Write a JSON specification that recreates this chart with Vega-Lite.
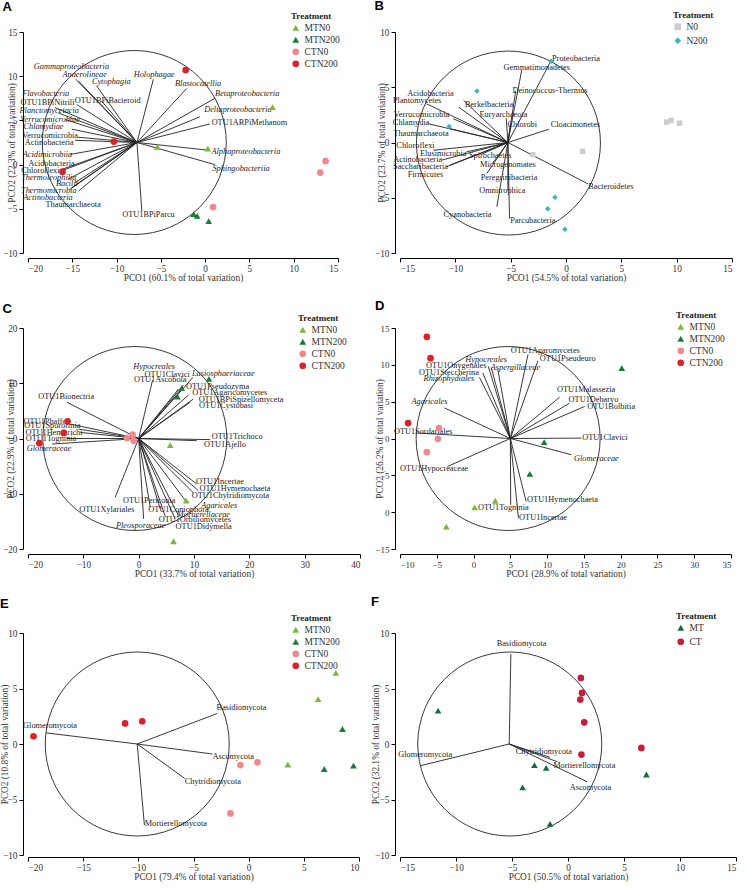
{
"$schema": "https://vega.github.io/schema/vega-lite/v6.json",
"background": "white",
"padding": {"left": 0, "top": 0, "right": 0, "bottom": 0},
"columns": 2,
"spacing": {"row": 17, "column": 10},
"align": "each",
"resolve": {"scale": {"color": "independent", "shape": "independent", "x": "independent", "y": "independent"}, "legend": {"color": "independent", "shape": "independent"}},
"datasets": {
"vA": [
{"n":"Gammaproteobacteria","x":-14.6,"y":9.65,"lx":-15.1,"ly":11.0,"it":1,"ox":-7.7,"oy":2.5},
{"n":"Anaerolineae","x":-14.3,"y":9.45,"lx":-13.6,"ly":10.15,"it":1,"ox":-7.7,"oy":2.5},
{"n":"Cytophagia","x":-12.25,"y":8.9,"lx":-10.6,"ly":9.3,"it":1,"ox":-7.7,"oy":2.5},
{"n":"Holophagae","x":-5.85,"y":9.65,"lx":-5.75,"ly":10.15,"it":1,"ox":-7.7,"oy":2.5},
{"n":"Blastocatellia","x":-2.1,"y":8.6,"lx":-0.8,"ly":9.1,"it":1,"ox":-7.7,"oy":2.5},
{"n":"Betaproteobacteria","x":1.1,"y":7.5,"lx":4.75,"ly":8.0,"it":1,"ox":-7.7,"oy":2.5},
{"n":"Deltaproteobacteria","x":-0.6,"y":5.4,"lx":3.7,"ly":6.15,"it":1,"ox":-7.7,"oy":2.5},
{"n":"OTU1ARPiMethanom","x":0.55,"y":4.6,"lx":5.0,"ly":4.75,"it":0,"ox":-7.7,"oy":2.5},
{"n":"Alphaproteobacteria","x":0.15,"y":1.65,"lx":4.6,"ly":1.4,"it":1,"ox":-7.7,"oy":2.5},
{"n":"Sphingobacteriia","x":1.1,"y":0.0,"lx":4.05,"ly":-0.55,"it":1,"ox":-7.7,"oy":2.5},
{"n":"OTU1BPiParcu","x":-7.15,"y":-5.25,"lx":-6.4,"ly":-5.75,"it":0,"ox":-7.7,"oy":2.5},
{"n":"Thaumarchaeota","x":-14.3,"y":-3.0,"lx":-14.9,"ly":-4.6,"it":0,"ox":-7.7,"oy":2.5},
{"n":"Actinobacteria","x":-15.25,"y":-2.8,"lx":-17.75,"ly":-3.75,"it":1,"ox":-7.7,"oy":2.5},
{"n":"Thermomicrobia","x":-15.05,"y":-2.6,"lx":-17.65,"ly":-3.0,"it":1,"ox":-7.7,"oy":2.5},
{"n":"Bacilli","x":-14.7,"y":-2.05,"lx":-15.6,"ly":-2.25,"it":1,"ox":-7.7,"oy":2.5},
{"n":"Thermoleophilia","x":-15.45,"y":-1.65,"lx":-17.65,"ly":-1.55,"it":1,"ox":-7.7,"oy":2.5},
{"n":"Chloroflexi","x":-16.2,"y":-0.7,"lx":-18.6,"ly":-0.7,"it":0,"ox":-7.7,"oy":2.5},
{"n":"Acidobacteria","x":-16.2,"y":-0.55,"lx":-17.35,"ly":0.05,"it":0,"ox":-7.7,"oy":2.5},
{"n":"Acidimicrobiia","x":-15.25,"y":1.15,"lx":-17.8,"ly":1.1,"it":1,"ox":-7.7,"oy":2.5},
{"n":"Actinobacteria","x":-14.7,"y":2.75,"lx":-17.6,"ly":2.4,"it":0,"ox":-7.7,"oy":2.5},
{"n":"Verrucomicrobia","x":-14.4,"y":3.1,"lx":-17.5,"ly":3.25,"it":0,"ox":-7.7,"oy":2.5},
{"n":"Chlamydiae","x":-15.05,"y":4.0,"lx":-18.25,"ly":4.25,"it":1,"ox":-7.7,"oy":2.5},
{"n":"Verrucomicrobiae","x":-15.8,"y":5.1,"lx":-17.5,"ly":5.1,"it":1,"ox":-7.7,"oy":2.5},
{"n":"Planctomycetacia","x":-16.6,"y":5.85,"lx":-17.6,"ly":6.05,"it":1,"ox":-7.7,"oy":2.5},
{"n":"OTU1BPiNitrili","x":-14.5,"y":6.8,"lx":-17.8,"ly":7.0,"it":0,"ox":-7.7,"oy":2.5},
{"n":"Flavobacteria","x":-16.95,"y":6.45,"lx":-18.0,"ly":8.0,"it":1,"ox":-7.7,"oy":2.5},
{"n":"OTU1BPiBacteroid","x":-11.7,"y":7.2,"lx":-11.0,"ly":7.25,"it":0,"ox":-7.7,"oy":2.5}
],
"pA": [
{"g":"MTN0","x":7.6,"y":6.5},{"g":"MTN0","x":-5.4,"y":2.0},{"g":"MTN0","x":0.3,"y":1.8},
{"g":"MTN200","x":-1.3,"y":-5.6},{"g":"MTN200","x":-0.9,"y":-5.8},{"g":"MTN200","x":0.4,"y":-6.4},
{"g":"CTN0","x":13.6,"y":0.4},{"g":"CTN0","x":13.0,"y":-0.9},{"g":"CTN0","x":0.9,"y":-4.8},
{"g":"CTN200","x":-2.2,"y":10.7},{"g":"CTN200","x":-10.3,"y":2.6},{"g":"CTN200","x":-16.1,"y":-0.8}
],
"vB": [
{"n":"Proteobacteria","x":-1.35,"y":7.4,"lx":0.9,"ly":7.55,"it":0,"ox":-5.25,"oy":0},
{"n":"Gemmatimonadetes","x":-4.0,"y":6.55,"lx":-2.65,"ly":6.75,"it":0,"ox":-5.25,"oy":0},
{"n":"Deinococcus-Thermus","x":-4.55,"y":4.65,"lx":-1.45,"ly":4.65,"it":0,"ox":-5.25,"oy":0},
{"n":"Berkelbacteria","x":-9.25,"y":3.8,"lx":-6.95,"ly":3.35,"it":0,"ox":-5.25,"oy":0},
{"n":"Euryarchaeota","x":-5.4,"y":2.2,"lx":-5.65,"ly":2.5,"it":0,"ox":-5.25,"oy":0},
{"n":"Chlorobi","x":-5.0,"y":1.75,"lx":-3.95,"ly":1.55,"it":0,"ox":-5.25,"oy":0},
{"n":"Cloacimonetes","x":-1.55,"y":1.2,"lx":0.85,"ly":1.55,"it":0,"ox":-5.25,"oy":0},
{"n":"Acidobacteria","x":-9.7,"y":3.2,"lx":-12.25,"ly":4.4,"it":0,"ox":-5.25,"oy":0},
{"n":"Plantomycetes","x":-12.6,"y":3.5,"lx":-13.45,"ly":3.75,"it":0,"ox":-5.25,"oy":0},
{"n":"Verrucomicrobia","x":-10.2,"y":2.15,"lx":-13.05,"ly":2.5,"it":0,"ox":-5.25,"oy":0},
{"n":"Chlamydia","x":-12.45,"y":1.7,"lx":-14.0,"ly":1.75,"it":0,"ox":-5.25,"oy":0},
{"n":"Thaumarchaeota","x":-10.5,"y":1.25,"lx":-13.1,"ly":0.8,"it":0,"ox":-5.25,"oy":0},
{"n":"Chloroflexi","x":-12.0,"y":-0.7,"lx":-13.6,"ly":-0.35,"it":0,"ox":-5.25,"oy":0},
{"n":"Elusimicrobia","x":-9.0,"y":-0.85,"lx":-11.1,"ly":-1.0,"it":0,"ox":-5.25,"oy":0},
{"n":"Spirochaetes","x":-7.6,"y":-1.05,"lx":-6.85,"ly":-1.25,"it":0,"ox":-5.25,"oy":0},
{"n":"Actinobacteria","x":-11.25,"y":-1.6,"lx":-13.4,"ly":-1.6,"it":0,"ox":-5.25,"oy":0},
{"n":"Microgenomates","x":-6.65,"y":-1.9,"lx":-5.25,"ly":-2.0,"it":0,"ox":-5.25,"oy":0},
{"n":"Saccharibacteria","x":-10.8,"y":-2.2,"lx":-13.15,"ly":-2.2,"it":0,"ox":-5.25,"oy":0},
{"n":"Firmicutes","x":-10.5,"y":-2.05,"lx":-12.7,"ly":-2.95,"it":0,"ox":-5.25,"oy":0},
{"n":"Peregrinibacteria","x":-7.15,"y":-2.8,"lx":-5.15,"ly":-3.25,"it":0,"ox":-5.25,"oy":0},
{"n":"Omnitrophica","x":-5.25,"y":-4.35,"lx":-5.75,"ly":-4.4,"it":0,"ox":-5.25,"oy":0},
{"n":"Bacteroidetes","x":2.0,"y":-3.75,"lx":4.05,"ly":-4.05,"it":0,"ox":-5.25,"oy":0},
{"n":"Cyanobacteria","x":-6.25,"y":-5.8,"lx":-8.9,"ly":-6.6,"it":0,"ox":-5.25,"oy":0},
{"n":"Parcubacteria","x":-5.1,"y":-6.9,"lx":-3.0,"ly":-7.1,"it":0,"ox":-5.25,"oy":0}
],
"pB": [
{"g":"N0","x":9.1,"y":1.85},{"g":"N0","x":9.5,"y":2.0},{"g":"N0","x":10.25,"y":1.75},{"g":"N0","x":1.5,"y":-0.8},{"g":"N0","x":-3.0,"y":-1.1},
{"g":"N200","x":-1.35,"y":7.35},{"g":"N200","x":-8.05,"y":4.65},{"g":"N200","x":-10.55,"y":1.45},{"g":"N200","x":-1.0,"y":-4.95},{"g":"N200","x":-1.65,"y":-6.0},{"g":"N200","x":-0.1,"y":-7.85}
],
"vC": [
{"n":"Hypocreales","x":2.5,"y":10.5,"lx":2.8,"ly":13.0,"it":1,"ox":0,"oy":0},
{"n":"OTU1Clavici","x":8.1,"y":9.7,"lx":5.15,"ly":11.5,"it":0,"ox":0,"oy":0},
{"n":"OTU1Ascobola","x":7.2,"y":8.95,"lx":3.9,"ly":10.6,"it":0,"ox":0,"oy":0},
{"n":"Lasiosphaeriaceae","x":9.8,"y":11.05,"lx":15.3,"ly":11.65,"it":1,"ox":0,"oy":0},
{"n":"OTU1Pseudozyma","x":7.7,"y":8.85,"lx":14.25,"ly":9.25,"it":0,"ox":0,"oy":0},
{"n":"OTU1Agaricomycetes","x":9.0,"y":7.85,"lx":16.45,"ly":8.15,"it":0,"ox":0,"oy":0},
{"n":"OTU1BPiSpizellomyceta","x":9.9,"y":7.15,"lx":18.5,"ly":6.95,"it":0,"ox":0,"oy":0},
{"n":"OTU1Cystobasi","x":9.3,"y":6.55,"lx":15.8,"ly":5.95,"it":0,"ox":0,"oy":0},
{"n":"OTU1Trichoco","x":12.9,"y":-0.2,"lx":17.8,"ly":0.35,"it":0,"ox":0,"oy":0},
{"n":"OTU1Ajello","x":10.5,"y":-0.4,"lx":15.6,"ly":-1.2,"it":0,"ox":0,"oy":0},
{"n":"OTU1Incertae","x":10.5,"y":-8.25,"lx":14.7,"ly":-7.8,"it":0,"ox":0,"oy":0},
{"n":"OTU1Hymenochaeta","x":10.8,"y":-9.45,"lx":17.4,"ly":-9.15,"it":0,"ox":0,"oy":0},
{"n":"OTU1Chytridiomycota","x":9.9,"y":-9.85,"lx":16.6,"ly":-10.45,"it":0,"ox":0,"oy":0},
{"n":"Agaricales","x":8.7,"y":-11.55,"lx":14.55,"ly":-12.15,"it":1,"ox":0,"oy":0},
{"n":"Mortierellaceae","x":7.2,"y":-13.95,"lx":11.7,"ly":-13.8,"it":1,"ox":0,"oy":0},
{"n":"OTU1Didymella","x":6.6,"y":-14.55,"lx":11.75,"ly":-16.1,"it":0,"ox":0,"oy":0},
{"n":"OTU1Orbiliomycetes","x":4.8,"y":-14.1,"lx":10.15,"ly":-14.75,"it":0,"ox":0,"oy":0},
{"n":"OTU1Coniophora","x":3.9,"y":-12.75,"lx":7.2,"ly":-12.9,"it":0,"ox":0,"oy":0},
{"n":"OTU1Periconia","x":2.1,"y":-12.45,"lx":1.9,"ly":-11.25,"it":0,"ox":0,"oy":0},
{"n":"Pleosporaceae","x":0.9,"y":-14.55,"lx":0.35,"ly":-15.8,"it":1,"ox":0,"oy":0},
{"n":"OTU1Xylariales","x":-4.25,"y":-10.65,"lx":-5.75,"ly":-12.9,"it":0,"ox":0,"oy":0},
{"n":"OTU1Bionectria","x":-12.95,"y":6.55,"lx":-13.1,"ly":7.55,"it":0,"ox":0,"oy":0},
{"n":"OTU1Phaffo","x":-12.35,"y":2.6,"lx":-16.9,"ly":3.05,"it":0,"ox":0,"oy":0},
{"n":"OTU1Sporormia","x":-10.85,"y":1.7,"lx":-15.6,"ly":2.2,"it":0,"ox":0,"oy":0},
{"n":"OTU1Hemitrichi","x":-10.55,"y":1.1,"lx":-15.3,"ly":1.0,"it":0,"ox":0,"oy":0},
{"n":"OTU1Togninia","x":-12.95,"y":0.0,"lx":-15.85,"ly":-0.1,"it":0,"ox":0,"oy":0},
{"n":"Glomeraceae","x":-15.65,"y":-1.0,"lx":-16.2,"ly":-1.9,"it":1,"ox":0,"oy":0}
],
"pC": [
{"g":"MTN0","x":5.7,"y":-1.2},{"g":"MTN0","x":8.6,"y":-11.25},{"g":"MTN0","x":6.3,"y":-18.6},
{"g":"MTN200","x":12.7,"y":10.8},{"g":"MTN200","x":7.8,"y":9.15},{"g":"MTN200","x":7.0,"y":7.6},
{"g":"CTN0","x":-1.1,"y":0.7},{"g":"CTN0","x":-2.1,"y":0.1},{"g":"CTN0","x":-0.9,"y":-0.4},
{"g":"CTN200","x":-12.85,"y":3.1},{"g":"CTN200","x":-13.55,"y":1.0},{"g":"CTN200","x":-17.95,"y":-0.85}
],
"vD": [
{"n":"OTU1Agaromycetes","x":7.4,"y":11.4,"lx":9.75,"ly":11.9,"it":0,"ox":5,"oy":0},
{"n":"OTU1Pseudeuro","x":8.75,"y":10.55,"lx":12.8,"ly":10.8,"it":0,"ox":5,"oy":0},
{"n":"Hypocreales","x":2.4,"y":9.65,"lx":1.7,"ly":10.7,"it":1,"ox":5,"oy":0},
{"n":"OTU1Onygenales","x":2.0,"y":9.8,"lx":-2.35,"ly":9.8,"it":0,"ox":5,"oy":0},
{"n":"Aspergillaceae","x":3.3,"y":9.35,"lx":5.7,"ly":9.55,"it":1,"ox":5,"oy":0},
{"n":"OTU1Steccherina","x":1.25,"y":8.9,"lx":-3.35,"ly":8.95,"it":0,"ox":5,"oy":0},
{"n":"Rhizophydiales","x":0.8,"y":8.3,"lx":-3.35,"ly":8.05,"it":1,"ox":5,"oy":0},
{"n":"OTU1Malassezia","x":11.7,"y":5.6,"lx":15.3,"ly":6.6,"it":0,"ox":5,"oy":0},
{"n":"OTU1Debaryo","x":13.05,"y":4.8,"lx":16.3,"ly":5.25,"it":0,"ox":5,"oy":0},
{"n":"OTU1Bolbitia","x":15.1,"y":4.35,"lx":18.7,"ly":4.25,"it":0,"ox":5,"oy":0},
{"n":"OTU1Clavici","x":14.65,"y":0.05,"lx":17.85,"ly":0.05,"it":0,"ox":5,"oy":0},
{"n":"Glomeraceae","x":13.3,"y":-2.2,"lx":16.7,"ly":-2.75,"it":1,"ox":5,"oy":0},
{"n":"OTU1Hymenochaeta","x":7.15,"y":-8.55,"lx":12.1,"ly":-8.4,"it":0,"ox":5,"oy":0},
{"n":"OTU1Togninia","x":5.05,"y":-9.0,"lx":4.05,"ly":-9.45,"it":0,"ox":5,"oy":0},
{"n":"OTU1Incertae","x":6.1,"y":-10.8,"lx":9.45,"ly":-10.75,"it":0,"ox":5,"oy":0},
{"n":"Agaricales","x":-3.95,"y":4.15,"lx":-6.0,"ly":4.9,"it":1,"ox":5,"oy":0},
{"n":"OTU1Sordariales","x":-7.65,"y":0.75,"lx":-6.85,"ly":0.85,"it":0,"ox":5,"oy":0},
{"n":"OTU1Hypocreaceae","x":-3.55,"y":-3.8,"lx":-5.35,"ly":-4.1,"it":0,"ox":5,"oy":0}
],
"pD": [
{"g":"MTN0","x":2.95,"y":-8.45},{"g":"MTN0","x":0.15,"y":-9.35},{"g":"MTN0","x":-3.7,"y":-11.95},
{"g":"MTN200","x":20.15,"y":9.55},{"g":"MTN200","x":9.6,"y":-0.5},{"g":"MTN200","x":7.65,"y":-4.8},
{"g":"CTN0","x":-4.7,"y":1.4},{"g":"CTN0","x":-4.85,"y":-0.05},{"g":"CTN0","x":-6.35,"y":-1.85},
{"g":"CTN200","x":-6.35,"y":13.8},{"g":"CTN200","x":-5.85,"y":10.9},{"g":"CTN200","x":-8.9,"y":2.1}
],
"vE": [
{"n":"Glomeromycota","x":-18.35,"y":1.0,"lx":-18.0,"ly":1.6,"it":0,"ox":-10.1,"oy":0},
{"n":"Basidiomycota","x":-2.85,"y":2.75,"lx":-0.65,"ly":3.2,"it":0,"ox":-10.1,"oy":0},
{"n":"Ascomycota","x":-3.3,"y":-0.9,"lx":-1.4,"ly":-1.2,"it":0,"ox":-10.1,"oy":0},
{"n":"Chytridiomycota","x":-5.8,"y":-3.1,"lx":-3.25,"ly":-3.4,"it":0,"ox":-10.1,"oy":0},
{"n":"Mortierellomycota","x":-9.45,"y":-7.3,"lx":-6.6,"ly":-7.25,"it":0,"ox":-10.1,"oy":0}
],
"pE": [
{"g":"MTN0","x":7.9,"y":6.4},{"g":"MTN0","x":6.3,"y":4.05},{"g":"MTN0","x":3.55,"y":-1.85},
{"g":"MTN200","x":8.5,"y":1.35},{"g":"MTN200","x":6.85,"y":-2.25},{"g":"MTN200","x":9.5,"y":-1.95},
{"g":"CTN0","x":-0.75,"y":-1.9},{"g":"CTN0","x":0.8,"y":-1.65},{"g":"CTN0","x":-1.65,"y":-6.25},
{"g":"CTN200","x":-19.5,"y":0.7},{"g":"CTN200","x":-11.2,"y":1.85},{"g":"CTN200","x":-9.65,"y":2.05}
],
"vF": [
{"n":"Basidiomycota","x":-5.1,"y":8.1,"lx":-4.15,"ly":9.05,"it":0,"ox":-5.25,"oy":0},
{"n":"Glomeromycota","x":-13.15,"y":-1.95,"lx":-12.75,"ly":-1.0,"it":0,"ox":-5.25,"oy":0},
{"n":"Chytridiomycota","x":-1.6,"y":-1.2,"lx":-2.15,"ly":-0.75,"it":0,"ox":-5.25,"oy":0},
{"n":"Mortierellomycota","x":-0.95,"y":-1.6,"lx":1.45,"ly":-1.95,"it":0,"ox":-5.25,"oy":0},
{"n":"Ascomycota","x":1.7,"y":-3.4,"lx":2.0,"ly":-4.0,"it":0,"ox":-5.25,"oy":0}
],
"pF": [
{"g":"MT","x":-11.6,"y":3.0},{"g":"MT","x":-3.0,"y":-1.9},{"g":"MT","x":-1.95,"y":-2.15},{"g":"MT","x":-4.05,"y":-3.9},{"g":"MT","x":-1.6,"y":-7.2},{"g":"MT","x":7.0,"y":-2.75},
{"g":"CT","x":1.15,"y":5.95},{"g":"CT","x":1.25,"y":4.6},{"g":"CT","x":1.1,"y":4.0},{"g":"CT","x":1.45,"y":1.95},{"g":"CT","x":1.2,"y":-0.95},{"g":"CT","x":6.55,"y":-0.35}
]
},
"concat": [
{"width": 310, "height": 221, "title": "A",
 "layer": [
  {"data": {"values": [{"cx": -8.0, "cy": 2.5}]}, "mark": {"type": "point", "shape": "circle", "size": 33856, "filled": false, "stroke": "#222", "strokeWidth": 0.9, "opacity": 1},
   "encoding": {"x": {"field": "cx", "type": "quantitative", "scale": {"domain": [-20, 15], "nice": false, "zero": false}, "axis": {"values": [-20,-15,-10,-5,0,5,10,15], "labelOverlap": false, "title": "PCO1 (60.1% of total variation)"}},
                "y": {"field": "cy", "type": "quantitative", "scale": {"domain": [-10, 15], "nice": false, "zero": false}, "axis": {"values": [-10,-5,0,5,10,15], "labelOverlap": false, "title": "PCO2 (22.3% of total variation)", "titleX": -7}}}},
  {"data": {"name": "vA"}, "mark": {"type": "rule", "color": "#222", "strokeWidth": 0.9},
   "encoding": {"x": {"field": "ox", "type": "quantitative"}, "y": {"field": "oy", "type": "quantitative"}, "x2": {"field": "x"}, "y2": {"field": "y"}}},
  {"data": {"name": "vA"}, "transform": [{"filter": "datum.it == 0"}], "mark": {"type": "text", "color": "#222"},
   "encoding": {"x": {"field": "lx", "type": "quantitative"}, "y": {"field": "ly", "type": "quantitative"}, "text": {"field": "n"}}},
  {"data": {"name": "vA"}, "transform": [{"filter": "datum.it == 1"}], "mark": {"type": "text", "fontStyle": "italic", "color": "#222"},
   "encoding": {"x": {"field": "lx", "type": "quantitative"}, "y": {"field": "ly", "type": "quantitative"}, "text": {"field": "n"}}},
  {"data": {"name": "pA"}, "mark": {"type": "point", "filled": true, "opacity": 1, "size": 45},
   "encoding": {"x": {"field": "x", "type": "quantitative"}, "y": {"field": "y", "type": "quantitative"},
     "color": {"field": "g", "type": "nominal", "title": "Treatment", "scale": {"domain": ["MTN0","MTN200","CTN0","CTN200"], "range": ["#7ab83c","#1d7a3a","#ee8a8e","#d9232a"]}, "legend": {"orient": "none", "legendX": 263, "legendY": -20}},
     "shape": {"field": "g", "type": "nominal", "title": "Treatment", "scale": {"domain": ["MTN0","MTN200","CTN0","CTN200"], "range": ["triangle-up","triangle-up","circle","circle"]}}}}
 ]},
{"width": 332, "height": 221, "title": "B",
 "layer": [
  {"data": {"values": [{"cx": -5.2, "cy": -0.05}]}, "mark": {"type": "point", "shape": "circle", "size": 33856, "filled": false, "stroke": "#222", "strokeWidth": 0.9, "opacity": 1},
   "encoding": {"x": {"field": "cx", "type": "quantitative", "scale": {"domain": [-15, 15], "nice": false, "zero": false}, "axis": {"values": [-15,-10,-5,0,5,10,15], "labelOverlap": false, "title": "PCO1 (54.5% of total variation)"}},
                "y": {"field": "cy", "type": "quantitative", "scale": {"domain": [-10, 10], "nice": false, "zero": false}, "axis": {"values": [-10,-5,0,5,10], "labelOverlap": false, "title": "PCO2 (23.7% of total variation)", "titleX": -9}}}},
  {"data": {"name": "vB"}, "mark": {"type": "rule", "color": "#222", "strokeWidth": 0.9},
   "encoding": {"x": {"field": "ox", "type": "quantitative"}, "y": {"field": "oy", "type": "quantitative"}, "x2": {"field": "x"}, "y2": {"field": "y"}}},
  {"data": {"name": "vB"}, "mark": {"type": "text", "color": "#222"},
   "encoding": {"x": {"field": "lx", "type": "quantitative"}, "y": {"field": "ly", "type": "quantitative"}, "text": {"field": "n"}}},
  {"data": {"name": "pB"}, "mark": {"type": "point", "filled": true, "opacity": 1, "size": 30},
   "encoding": {"x": {"field": "x", "type": "quantitative"}, "y": {"field": "y", "type": "quantitative"},
     "color": {"field": "g", "type": "nominal", "title": "Treatment", "scale": {"domain": ["N0","N200"], "range": ["#cdcdcd","#3bb5ba"]}, "legend": {"orient": "none", "legendX": 273, "legendY": -21, "rowPadding": 3}},
     "shape": {"field": "g", "type": "nominal", "title": "Treatment", "scale": {"domain": ["N0","N200"], "range": ["square","diamond"]}}}}
 ]},
{"width": 332, "height": 221, "title": "C",
 "layer": [
  {"data": {"values": [{"cx": -0.7, "cy": 0}]}, "mark": {"type": "point", "shape": "circle", "size": 33856, "filled": false, "stroke": "#222", "strokeWidth": 0.9, "opacity": 1},
   "encoding": {"x": {"field": "cx", "type": "quantitative", "scale": {"domain": [-20, 40], "nice": false, "zero": false}, "axis": {"values": [-20,-10,0,10,20,30,40], "labelOverlap": false, "title": "PCO1 (33.7% of total variation)"}},
                "y": {"field": "cy", "type": "quantitative", "scale": {"domain": [-20, 20], "nice": false, "zero": false}, "axis": {"values": [-20,-10,0,10,20], "labelOverlap": false, "title": "PCO2 (22.9% of total variation)", "titleX": -8}}}},
  {"data": {"name": "vC"}, "mark": {"type": "rule", "color": "#222", "strokeWidth": 0.9},
   "encoding": {"x": {"field": "ox", "type": "quantitative"}, "y": {"field": "oy", "type": "quantitative"}, "x2": {"field": "x"}, "y2": {"field": "y"}}},
  {"data": {"name": "vC"}, "transform": [{"filter": "datum.it == 0"}], "mark": {"type": "text", "color": "#222"},
   "encoding": {"x": {"field": "lx", "type": "quantitative"}, "y": {"field": "ly", "type": "quantitative"}, "text": {"field": "n"}}},
  {"data": {"name": "vC"}, "transform": [{"filter": "datum.it == 1"}], "mark": {"type": "text", "fontStyle": "italic", "color": "#222"},
   "encoding": {"x": {"field": "lx", "type": "quantitative"}, "y": {"field": "ly", "type": "quantitative"}, "text": {"field": "n"}}},
  {"data": {"name": "pC"}, "mark": {"type": "point", "filled": true, "opacity": 1, "size": 45},
   "encoding": {"x": {"field": "x", "type": "quantitative"}, "y": {"field": "y", "type": "quantitative"},
     "color": {"field": "g", "type": "nominal", "title": "Treatment", "scale": {"domain": ["MTN0","MTN200","CTN0","CTN200"], "range": ["#7ab83c","#1d7a3a","#ee8a8e","#d9232a"]}, "legend": {"orient": "none", "legendX": 270, "legendY": -14}},
     "shape": {"field": "g", "type": "nominal", "title": "Treatment", "scale": {"domain": ["MTN0","MTN200","CTN0","CTN200"], "range": ["triangle-up","triangle-up","circle","circle"]}}}}
 ]},
{"width": 331, "height": 221, "title": "D",
 "layer": [
  {"data": {"values": [{"cx": 4.7, "cy": 0}]}, "mark": {"type": "point", "shape": "circle", "size": 33856, "filled": false, "stroke": "#222", "strokeWidth": 0.9, "opacity": 1},
   "encoding": {"x": {"field": "cx", "type": "quantitative", "scale": {"domain": [-10, 35], "nice": false, "zero": false}, "axis": {"values": [-10,-5,0,5,10,15,20,25,30,35], "tickCount": 10, "labelOverlap": false, "labelSeparation": 0, "labelBound": false, "labelFontSize": 9, "title": "PCO1 (28.9% of total variation)"}},
                "y": {"field": "cy", "type": "quantitative", "scale": {"domain": [-15, 15], "nice": false, "zero": false}, "axis": {"values": [-15,-10,-5,0,5,10,15], "tickCount": 7, "labelOverlap": false, "labelSeparation": 0, "labelBound": false, "labelFontSize": 9, "labelExpr": "datum.value == -10 ? '0' : datum.label", "title": "PCO2 (26.2% of total variation)", "titleX": -11}}}},
  {"data": {"name": "vD"}, "mark": {"type": "rule", "color": "#222", "strokeWidth": 0.9},
   "encoding": {"x": {"field": "ox", "type": "quantitative"}, "y": {"field": "oy", "type": "quantitative"}, "x2": {"field": "x"}, "y2": {"field": "y"}}},
  {"data": {"name": "vD"}, "transform": [{"filter": "datum.it == 0"}], "mark": {"type": "text", "color": "#222"},
   "encoding": {"x": {"field": "lx", "type": "quantitative"}, "y": {"field": "ly", "type": "quantitative"}, "text": {"field": "n"}}},
  {"data": {"name": "vD"}, "transform": [{"filter": "datum.it == 1"}], "mark": {"type": "text", "fontStyle": "italic", "color": "#222"},
   "encoding": {"x": {"field": "lx", "type": "quantitative"}, "y": {"field": "ly", "type": "quantitative"}, "text": {"field": "n"}}},
  {"data": {"name": "pD"}, "mark": {"type": "point", "filled": true, "opacity": 1, "size": 45},
   "encoding": {"x": {"field": "x", "type": "quantitative"}, "y": {"field": "y", "type": "quantitative"},
     "color": {"field": "g", "type": "nominal", "title": "Treatment", "scale": {"domain": ["MTN0","MTN200","CTN0","CTN200"], "range": ["#7ab83c","#1d7a3a","#ee8a8e","#d9232a"]}, "legend": {"orient": "none", "legendX": 276, "legendY": -17}},
     "shape": {"field": "g", "type": "nominal", "title": "Treatment", "scale": {"domain": ["MTN0","MTN200","CTN0","CTN200"], "range": ["triangle-up","triangle-up","circle","circle"]}}}}
 ]},
{"width": 331, "height": 222, "title": {"text": "E", "offset": 3},
 "layer": [
  {"data": {"values": [{"cx": -10.1, "cy": 0}]}, "mark": {"type": "point", "shape": "circle", "size": 33856, "filled": false, "stroke": "#222", "strokeWidth": 0.9, "opacity": 1},
   "encoding": {"x": {"field": "cx", "type": "quantitative", "scale": {"domain": [-20, 10], "nice": false, "zero": false}, "axis": {"values": [-20,-15,-10,-5,0,5,10], "labelOverlap": false, "title": "PCO1 (79.4% of total variation)", "offset": 2}},
                "y": {"field": "cy", "type": "quantitative", "scale": {"domain": [-10, 10], "nice": false, "zero": false}, "axis": {"values": [-10,-5,0,5,10], "labelOverlap": false, "title": "PCO2 (10.8% of total variation)", "titleX": -14}}}},
  {"data": {"name": "vE"}, "mark": {"type": "rule", "color": "#222", "strokeWidth": 0.9},
   "encoding": {"x": {"field": "ox", "type": "quantitative"}, "y": {"field": "oy", "type": "quantitative"}, "x2": {"field": "x"}, "y2": {"field": "y"}}},
  {"data": {"name": "vE"}, "mark": {"type": "text", "color": "#222"},
   "encoding": {"x": {"field": "lx", "type": "quantitative"}, "y": {"field": "ly", "type": "quantitative"}, "text": {"field": "n"}}},
  {"data": {"name": "pE"}, "mark": {"type": "point", "filled": true, "opacity": 1, "size": 45},
   "encoding": {"x": {"field": "x", "type": "quantitative"}, "y": {"field": "y", "type": "quantitative"},
     "color": {"field": "g", "type": "nominal", "title": "Treatment", "scale": {"domain": ["MTN0","MTN200","CTN0","CTN200"], "range": ["#7ab83c","#1d7a3a","#ee8a8e","#d9232a"]}, "legend": {"orient": "none", "legendX": 263, "legendY": -19}},
     "shape": {"field": "g", "type": "nominal", "title": "Treatment", "scale": {"domain": ["MTN0","MTN200","CTN0","CTN200"], "range": ["triangle-up","triangle-up","circle","circle"]}}}}
 ]},
{"width": 336, "height": 222, "title": {"text": "F", "offset": 3},
 "layer": [
  {"data": {"values": [{"cx": -5.2, "cy": 0}]}, "mark": {"type": "point", "shape": "circle", "size": 33856, "filled": false, "stroke": "#222", "strokeWidth": 0.9, "opacity": 1},
   "encoding": {"x": {"field": "cx", "type": "quantitative", "scale": {"domain": [-15, 15], "nice": false, "zero": false}, "axis": {"values": [-15,-10,-5,0,5,10,15], "labelOverlap": false, "title": "PCO1 (50.5% of total variation)", "offset": 2}},
                "y": {"field": "cy", "type": "quantitative", "scale": {"domain": [-10, 10], "nice": false, "zero": false}, "axis": {"values": [-10,-5,0,5,10], "labelOverlap": false, "title": "PCO2 (32.1% of total variation)", "titleX": -15}}}},
  {"data": {"name": "vF"}, "mark": {"type": "rule", "color": "#222", "strokeWidth": 0.9},
   "encoding": {"x": {"field": "ox", "type": "quantitative"}, "y": {"field": "oy", "type": "quantitative"}, "x2": {"field": "x"}, "y2": {"field": "y"}}},
  {"data": {"name": "vF"}, "mark": {"type": "text", "color": "#222"},
   "encoding": {"x": {"field": "lx", "type": "quantitative"}, "y": {"field": "ly", "type": "quantitative"}, "text": {"field": "n"}}},
  {"data": {"name": "pF"}, "mark": {"type": "point", "filled": true, "opacity": 1, "size": 45},
   "encoding": {"x": {"field": "x", "type": "quantitative"}, "y": {"field": "y", "type": "quantitative"},
     "color": {"field": "g", "type": "nominal", "title": "Treatment", "scale": {"domain": ["MT","CT"], "range": ["#1b6b35","#c41e3a"]}, "legend": {"orient": "none", "legendX": 276, "legendY": -21, "rowPadding": 3}},
     "shape": {"field": "g", "type": "nominal", "title": "Treatment", "scale": {"domain": ["MT","CT"], "range": ["triangle-up","circle"]}}}}
 ]}
],
"config": {
 "view": {"stroke": null},
 "font": "Liberation Serif",
 "text": {"font": "Liberation Serif", "fontSize": 8.3, "color": "#222"},
 "axis": {"grid": false, "domainColor": "#000", "tickColor": "#000", "domainWidth": 1, "tickWidth": 1, "tickSize": 4, "labelFont": "Liberation Serif", "labelFontSize": 9.3, "labelColor": "#333", "labelOverlap": false, "titleFont": "Liberation Serif", "titleFontSize": 9.3, "titleFontWeight": "normal", "titleColor": "#333", "offset": 5, "labelPadding": 2, "titlePadding": 0},
 "legend": {"titleFont": "Liberation Serif", "titleFontSize": 9, "titleFontWeight": "bold", "titleColor": "#222", "labelFont": "Liberation Serif", "labelFontSize": 9.5, "labelColor": "#333", "symbolSize": 45, "padding": 0, "rowPadding": 1, "titlePadding": 2, "symbolStrokeWidth": 0},
 "title": {"font": "Liberation Sans", "fontSize": 13, "fontWeight": "bold", "anchor": "start", "frame": "bounds", "offset": -2, "color": "#000"}
}
}
